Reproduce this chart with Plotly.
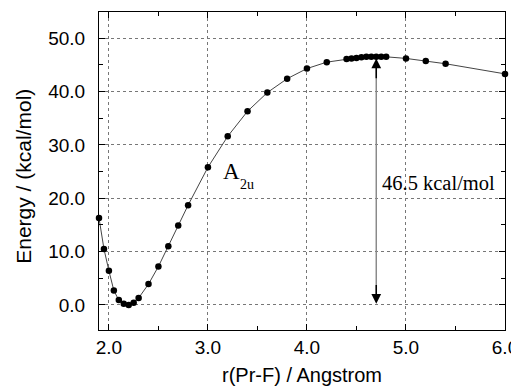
import plotly.graph_objects as go

r_pr_f = [1.90, 1.95, 2.00, 2.05, 2.10, 2.15, 2.20, 2.25, 2.30, 2.40, 2.50, 2.60, 2.70, 2.80,
          3.00, 3.20, 3.40, 3.60, 3.80, 4.00, 4.20, 4.40, 4.45, 4.50, 4.55, 4.60, 4.65,
          4.70, 4.75, 4.80, 5.00, 5.20, 5.40, 6.00]
energy = [16.3, 10.5, 6.4, 2.7, 0.9, 0.2, 0.0, 0.4, 1.3, 3.9, 7.2, 11.0, 14.9, 18.7,
          25.8, 31.6, 36.3, 39.8, 42.4, 44.3, 45.5, 46.1, 46.2, 46.3, 46.4, 46.5, 46.5,
          46.5, 46.5, 46.5, 46.2, 45.7, 45.2, 43.3]

x_ticks = [2.0, 3.0, 4.0, 5.0, 6.0]
y_ticks = [0.0, 10.0, 20.0, 30.0, 40.0, 50.0]
barrier_x = 4.70
barrier_low = 0.0
barrier_high = 46.5
state_main = "A"
state_sub = "2u"
barrier_label = "46.5 kcal/mol"
x_title = "r(Pr-F) / Angstrom"
y_title = "Energy / (kcal/mol)"

SANS = "Liberation Sans, Arial, Helvetica, sans-serif"
SERIF = "Liberation Serif, Times New Roman, serif"

fig = go.Figure()
fig.add_trace(go.Scatter(
    x=r_pr_f, y=energy, mode="lines+markers",
    line=dict(color="#444444", width=1),
    marker=dict(color="black", size=6.5),
    showlegend=False, cliponaxis=False,
))

# gray shaft of the double arrow
fig.add_shape(type="line", x0=barrier_x, x1=barrier_x, y0=barrier_low + 1.0, y1=barrier_high - 1.0,
              line=dict(color="#8a8a8a", width=1.5))
# black arrowheads
fig.add_annotation(x=barrier_x, y=barrier_low + 0.2, ax=barrier_x, ay=barrier_low + 4,
                   xref="x", yref="y", axref="x", ayref="y", text="",
                   showarrow=True, arrowhead=2, arrowsize=1.3, arrowwidth=1.5, arrowcolor="black")
fig.add_annotation(x=barrier_x, y=barrier_high - 0.3, ax=barrier_x, ay=barrier_high - 4.3,
                   xref="x", yref="y", axref="x", ayref="y", text="",
                   showarrow=True, arrowhead=2, arrowsize=1.3, arrowwidth=1.5, arrowcolor="black")

fig.add_annotation(x=4.74, y=22.8, xref="x", yref="y", text=barrier_label, showarrow=False,
                   xanchor="left", yanchor="middle",
                   font=dict(family=SERIF, size=20.5, color="black"))
fig.add_annotation(x=3.13, y=25.0, xref="x", yref="y", text=state_main, showarrow=False,
                   xanchor="left", yanchor="middle",
                   font=dict(family=SERIF, size=23, color="black"))
fig.add_annotation(x=3.30, y=22.5, xref="x", yref="y", text=state_sub, showarrow=False,
                   xanchor="left", yanchor="middle",
                   font=dict(family=SERIF, size=14, color="black"))

# axis titles
fig.add_annotation(x=0.499, y=-0.142, xref="paper", yref="paper", text=x_title, showarrow=False,
                   xanchor="center", yanchor="middle", font=dict(family=SANS, size=20, color="black"))
fig.add_annotation(x=-0.188, y=0.484, xref="paper", yref="paper", text=y_title, showarrow=False,
                   textangle=-90, xanchor="center", yanchor="middle",
                   font=dict(family=SANS, size=21, color="black"))

axis_common = dict(
    showline=True, linecolor="black", linewidth=1, mirror="ticks",
    ticks="inside", ticklen=6, tickcolor="black", tickwidth=1,
    showgrid=True, gridcolor="#777777", griddash="dot", gridwidth=1,
    zeroline=False, automargin=False,
    tickfont=dict(family=SANS, size=19, color="black"),
    tickformat=".1f",
)

fig.update_xaxes(
    range=[1.9, 6.0], tickvals=x_ticks,
    minor=dict(dtick=0.5, tick0=2.0, ticks="inside", ticklen=4, tickcolor="black", showgrid=False),
    ticklabelstandoff=0,
    **axis_common,
)
fig.update_yaxes(
    range=[-4.7, 54.9], tickvals=y_ticks,
    minor=dict(dtick=5, tick0=0, ticks="inside", ticklen=4, tickcolor="black", showgrid=False),
    ticklabelstandoff=9,
    **axis_common,
)

# the page body adds an 8 px offset, so the figure is 8 px smaller on each axis
fig.update_layout(
    width=511, height=378,
    margin=dict(l=91, r=14, t=4, b=56, autoexpand=False),
    paper_bgcolor="white", plot_bgcolor="white",
)

fig.write_html("out.html")
